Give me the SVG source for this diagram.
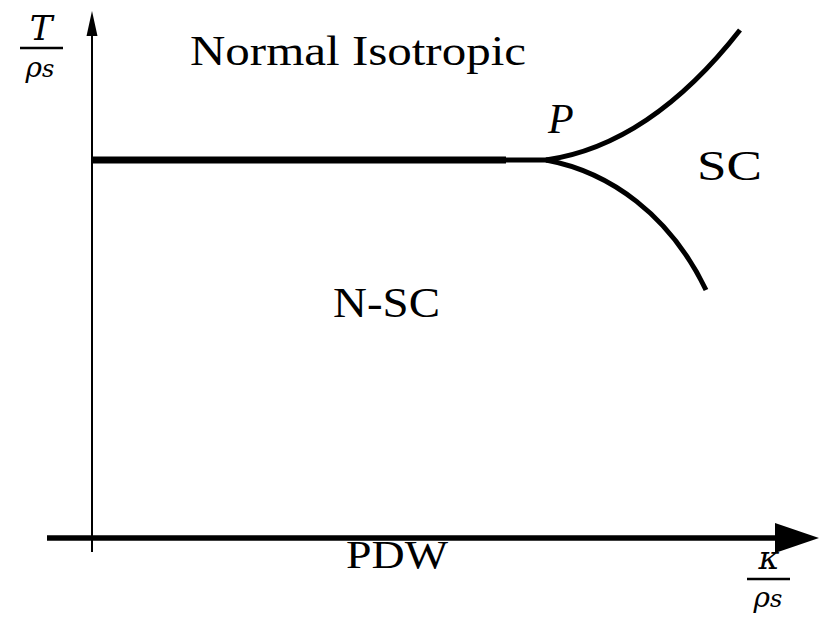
<svg xmlns="http://www.w3.org/2000/svg" width="820" height="618" viewBox="0 0 820 618">
<style>
.t{font-family:"Liberation Serif","DejaVu Serif",serif;fill:#000}
.m{font-family:"DejaVu Serif","Liberation Serif",serif;font-style:italic;fill:#000}
.ln{stroke:#000;fill:none}
</style>
<rect width="820" height="618" fill="#fff"/>
<g id="connectors">
<line class="ln" x1="92" y1="552" x2="92" y2="30" stroke-width="2"/>
<polygon points="92,11 86.5,36 97.5,36" fill="#000"/>
<line class="ln" x1="47" y1="538" x2="782" y2="538" stroke-width="5.5"/>
<polygon points="819,538 775,523 775,553" fill="#000"/>
<line class="ln" x1="92" y1="160" x2="506" y2="160" stroke-width="7"/>
<line class="ln" x1="504" y1="160" x2="548" y2="160" stroke-width="5"/>
<path class="ln" d="M546,160 Q650,145 740,30" stroke-width="5"/>
<path class="ln" d="M546,160 C610,172 670,215 706,290" stroke-width="5"/>
</g>
<g id="ylabel">
<text class="m" x="41" y="40" font-size="34" text-anchor="middle">T</text>
<line class="ln" x1="20" y1="48" x2="63" y2="48" stroke-width="2.5"/>
<text class="m" x="40" y="77" font-size="28" text-anchor="middle">ρ<tspan font-size="24">s</tspan></text>
</g>
<g id="xlabel">
<text class="m" x="769" y="569" font-size="32" text-anchor="middle">κ</text>
<line class="ln" x1="747" y1="579" x2="790" y2="579" stroke-width="2.5"/>
<text class="m" x="768" y="607" font-size="28" text-anchor="middle">ρ<tspan font-size="24">s</tspan></text>
</g>
<g id="normal"><text class="t" x="190" y="65" font-size="43" textLength="336" lengthAdjust="spacingAndGlyphs">Normal Isotropic</text></g>
<g id="P"><text class="t" x="548" y="133" font-size="42" font-style="italic">P</text></g>
<g id="SC"><text class="t" x="697" y="180" font-size="42" textLength="65" lengthAdjust="spacingAndGlyphs">SC</text></g>
<g id="NSC"><text class="t" x="333" y="317" font-size="42" textLength="107" lengthAdjust="spacingAndGlyphs">N-SC</text></g>
<g id="PDW"><text class="t" x="346" y="568" font-size="40" textLength="102" lengthAdjust="spacingAndGlyphs">PDW</text></g>
</svg>
